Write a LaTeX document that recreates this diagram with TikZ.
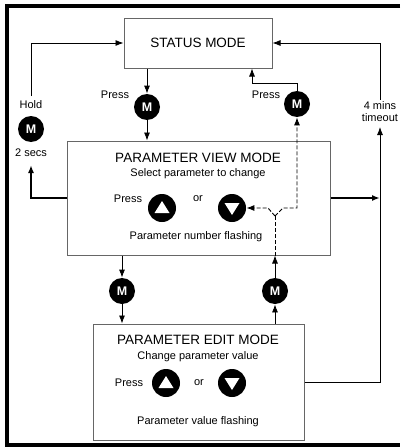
\documentclass[tikz,border=0pt]{standalone}
\usepackage{fontspec}
\setmainfont{Liberation Sans}
\usetikzlibrary{arrows.meta,calc}

\begin{document}
\begin{tikzpicture}
[x=1pt,y=-1pt,line width=0.8pt,>={Latex[length=8pt,width=6pt]},
mode/.style={draw=black!60,fill=white,line width=1pt,inner sep=0pt},
mkey/.style={circle,fill=black,text=white,minimum size=26pt,inner sep=0pt,font=\fontsize{12.5}{12}\selectfont\bfseries},
akey/.style={circle,fill=black,minimum size=28pt,inner sep=0pt},
txt/.style={inner sep=0pt,font=\fontsize{11}{12}\selectfont},
big/.style={inner sep=0pt,font=\fontsize{13.5}{15}\selectfont},
flash/.style={line width=0.9pt,dash pattern=on 4pt off 2pt}]
\useasboundingbox (0,0) rectangle (400,447);
\draw[line width=4pt] (400,6) -- (7,6) -- (7,445) -- (400,445);

% the three modes
\node[mode,big,minimum width=148,minimum height=50] (status) at (198,43) {STATUS MODE};
\node[mode,minimum width=263,minimum height=114] (view) at (198.5,198) {};
\node[mode,minimum width=211,minimum height=116] (edit) at (198.5,382) {};

\node[big] (viewT) at (198,158) {PARAMETER VIEW MODE};
\node[txt] (viewS) at (198,174) {Select parameter to change};
\node[txt] (viewP) at (128,199) {Press};
\node[akey] (viewU) at (162,208) {};
\node[txt] (viewO) at (198,199) {or};
\node[akey] (viewD) at (232,208) {};
\node[txt] (viewF) at (196,237) {Parameter number flashing};

\node[big] (editT) at (198,340) {PARAMETER EDIT MODE};
\node[txt] (editS) at (198,357) {Change parameter value};
\node[txt] (editP) at (129,383) {Press};
\node[akey] (editU) at (166,383) {};
\node[txt] (editO) at (199,383) {or};
\node[akey] (editD) at (232,383) {};
\node[txt] (editF) at (198,422) {Parameter value flashing};

\foreach \k in {viewU,editU}
	\fill[white] ($(\k)+(0,-7)$) -- ++(7.5,12) -- ++(-15,0) -- cycle;
\foreach \k in {viewD,editD}
	\fill[white] ($(\k)+(0,7)$) -- ++(7.5,-12) -- ++(-15,0) -- cycle;

% M keys and their labels
\node[mkey] (mPress) at (147,107) {M};
\node[mkey] (mBack) at (297,104) {M};
\node[mkey] (mHold) at (31,129) {M};
\node[mkey] (mDown) at (122,291) {M};
\node[mkey] (mUp) at (275,291) {M};

\node[txt] (pressL) at (115,95) {Press};
\node[txt] (pressR) at (266,95) {Press};
\node[txt] (hold) at (31,105) {Hold};
\node[txt] (secs) at (31,153) {2 secs};
\node[txt] (mins) at (380,106) {4 mins};
\node[txt] (tout) at (380,118) {timeout};

\coordinate (holdIn) at (31,165);
\coordinate (holdOut) at (31,96);
\coordinate (backTurn) at (252,83);
\coordinate (fork) at (275,216);
\coordinate (toutIn) at (380,127);
\coordinate (minsOut) at (380,100);

% connectors
\draw[->] (status.south -| mPress) -- (mPress);
\draw[->] (mPress) -- (mPress |- view.north);
\draw[->] (mBack.north) |- (backTurn) -- (backTurn |- status.south);
\draw[->,line width=1.6pt] (view.west) -| (holdIn);
\draw[->] (holdOut) |- (status.west);
\draw[->,flash] (fork) -- ++(8,-8) -| (mBack.south);
\draw[->,flash] (fork) -- ++(-7,-8) -- (viewD.east);
\draw[flash] (fork) -- (fork |- view.south);
\draw[->] (mDown |- view.south) -- (mDown);
\draw[->] (mDown) -- (mDown |- edit.north);
\draw[->] (mUp |- edit.north) -- (mUp);
\draw[->] (mUp) -- (mUp |- view.south);
\draw[->] (edit.east) -| (toutIn);
\draw[->,line width=1.6pt] (view.east) -- (view.east -| toutIn);
\draw[->] (minsOut) |- (status.east);
\end{tikzpicture}
\end{document}
